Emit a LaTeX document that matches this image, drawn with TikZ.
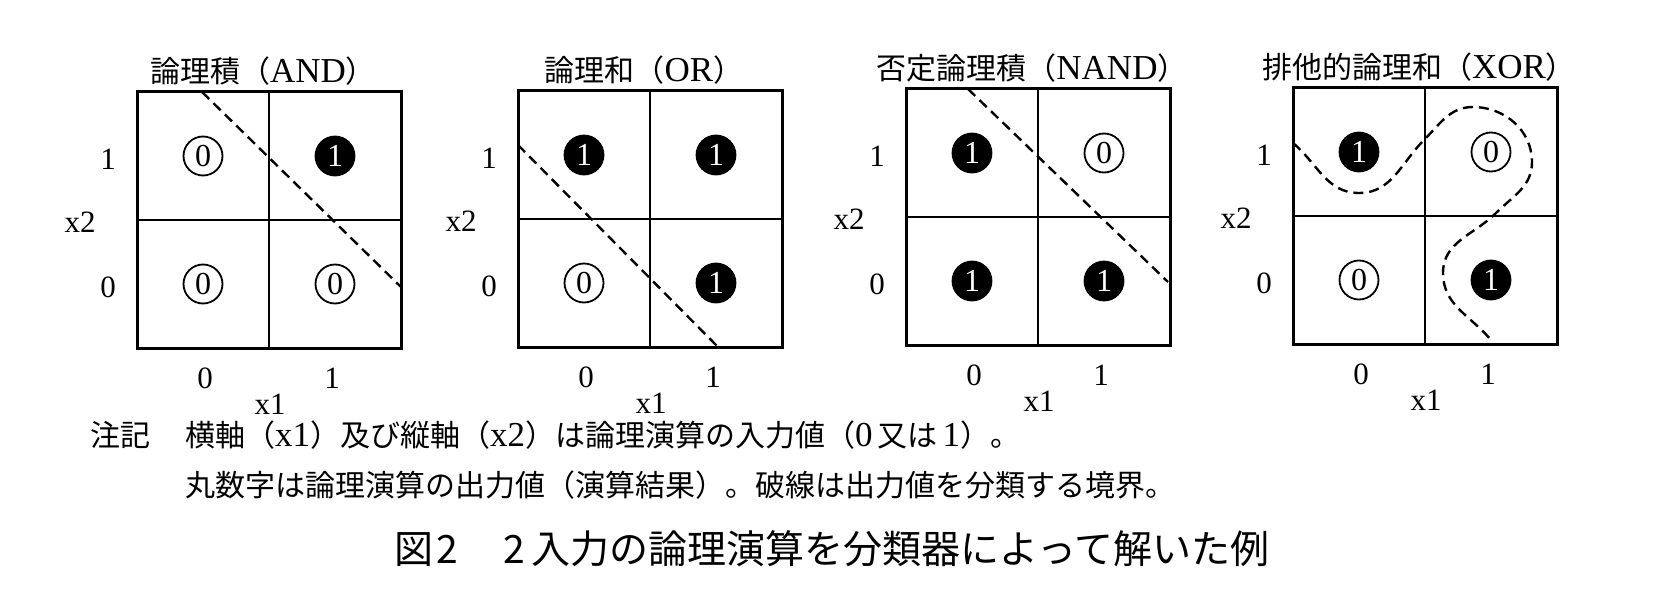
\documentclass[tikz,border=0pt]{standalone}
\usepackage{fontspec}
\setmainfont{Liberation Serif}
\newfontfamily\jp{Noto Sans CJK JP}
\newcommand{\lat}[1]{{\fontsize{35pt}{35pt}\selectfont #1}}
\tikzset{
  frame/.style={line width=3pt},
  gridline/.style={line width=2pt},
  boundary/.style={line width=2.4pt, dash pattern=on 10pt off 6pt},
  val0/.style={circle, draw, line width=1.8pt, minimum size=39pt, inner sep=0pt,
    font=\fontsize{32pt}{32pt}\selectfont},
  val1/.style={circle, fill=black, draw=black, line width=1.8pt, minimum size=39pt, inner sep=0pt,
    text=white, font=\fontsize{32pt}{32pt}\selectfont},
  ptitle/.style={inner sep=0pt, font=\fontsize{30pt}{34pt}\selectfont},
  axislab/.style={inner sep=0pt, font=\fontsize{31pt}{32pt}\selectfont},
  note/.style={anchor=west, inner sep=0pt, font=\fontsize{30pt}{34pt}\selectfont},
  captiontext/.style={anchor=west, inner sep=0pt, font=\jp\fontsize{39pt}{42pt}\selectfont},
}
\newcommand{\gatepanel}[8]{%
  \coordinate (#1nw) at (#2,#3);
  \coordinate (#1se) at ({#2+264},{#3+256});
  \coordinate (#1n) at ({#2+132},#3);
  \coordinate (#1s) at ({#2+132},{#3+256});
  \coordinate (#1w) at (#2,{#3+128});
  \coordinate (#1e) at ({#2+264},{#3+128});
  \draw[gridline] (#1n) -- (#1s);
  \draw[gridline] (#1w) -- (#1e);
  \draw[frame] (#1nw) rectangle (#1se);
  \node[ptitle] (#1title) at ({#2+126},{#3-21}) {#4};
  \node[val#5] (#1tl) at ({#2+66},{#3+64}) {#5};
  \node[val#6] (#1tr) at ({#2+198},{#3+64}) {#6};
  \node[val#7] (#1bl) at ({#2+66},{#3+192}) {#7};
  \node[val#8] (#1br) at ({#2+198},{#3+192}) {#8};
  \node[axislab] (#1row1) at ({#2-29},{#3+67}) {1};
  \node[axislab] (#1row0) at ({#2-29},{#3+195}) {0};
  \node[axislab] (#1xtwo) at ({#2-57},{#3+130}) {x2};
  \node[axislab] (#1col0) at ({#2+68},{#3+286}) {0};
  \node[axislab] (#1col1) at ({#2+195},{#3+286}) {1};
  \node[axislab] (#1xone) at ({#2+133},{#3+312}) {x1};
}
\begin{document}
\begin{tikzpicture}[x=1pt,y=-1pt]
\useasboundingbox[fill=white] (0,0) rectangle (1658,604);

\gatepanel{and}{137}{92}{{\jp 論理積（}\lat{AND}{\jp ）}}{0}{1}{0}{0}
\gatepanel{or}{518}{91}{{\jp 論理和（}\lat{OR}{\jp ）}}{1}{1}{0}{1}
\gatepanel{nand}{906}{89}{{\jp 否定論理積（}\lat{NAND}{\jp ）}}{1}{0}{1}{1}
\gatepanel{xor}{1293}{88}{{\jp 排他的論理和（}\lat{XOR}{\jp ）}}{1}{0}{0}{1}

% decision boundaries
\coordinate (andA) at (202,92);
\coordinate (andB) at (401,287);
\draw[boundary] (andA) -- (andB);
\coordinate (orA) at (518,145);
\coordinate (orB) at (718,347);
\draw[boundary] (orA) -- (orB);
\coordinate (nandA) at (968,89);
\coordinate (nandB) at (1168,282);
\draw[boundary] (nandA) -- (nandB);
\coordinate (xorA) at (1293,143);
\coordinate (xorB) at (1491,340);
\draw[boundary] (xorA) to[out=-40,in=180] (1359,193)
  to[out=0,in=225] (1424,140)
  to[out=45,in=180] (1473,107)
  to[out=0,in=90] (1532,162)
  to[out=-90,in=45] (1496,213)
  to[out=225,in=90] (1443,273)
  to[out=-90,in=130] (xorB);

% notes
\node[note] (notehead) at (90,435) {\jp 注記};
\node[note] (noteone) at (185,435) {{\jp 横軸（}\lat{x1}{\jp ）及び縦軸（}\lat{x2}{\jp ）は論理演算の入力値（}\lat{0}\,{\jp 又は}\,\lat{1}{\jp ）。}};
\node[note] (notetwo) at (185,485) {\jp 丸数字は論理演算の出力値（演算結果）。破線は出力値を分類する境界。};
\node[captiontext] (caption) at (394,549) {図\kern3pt 2\kern46pt 2\kern6pt 入力の論理演算を分類器によって解いた例};
\end{tikzpicture}
\end{document}
